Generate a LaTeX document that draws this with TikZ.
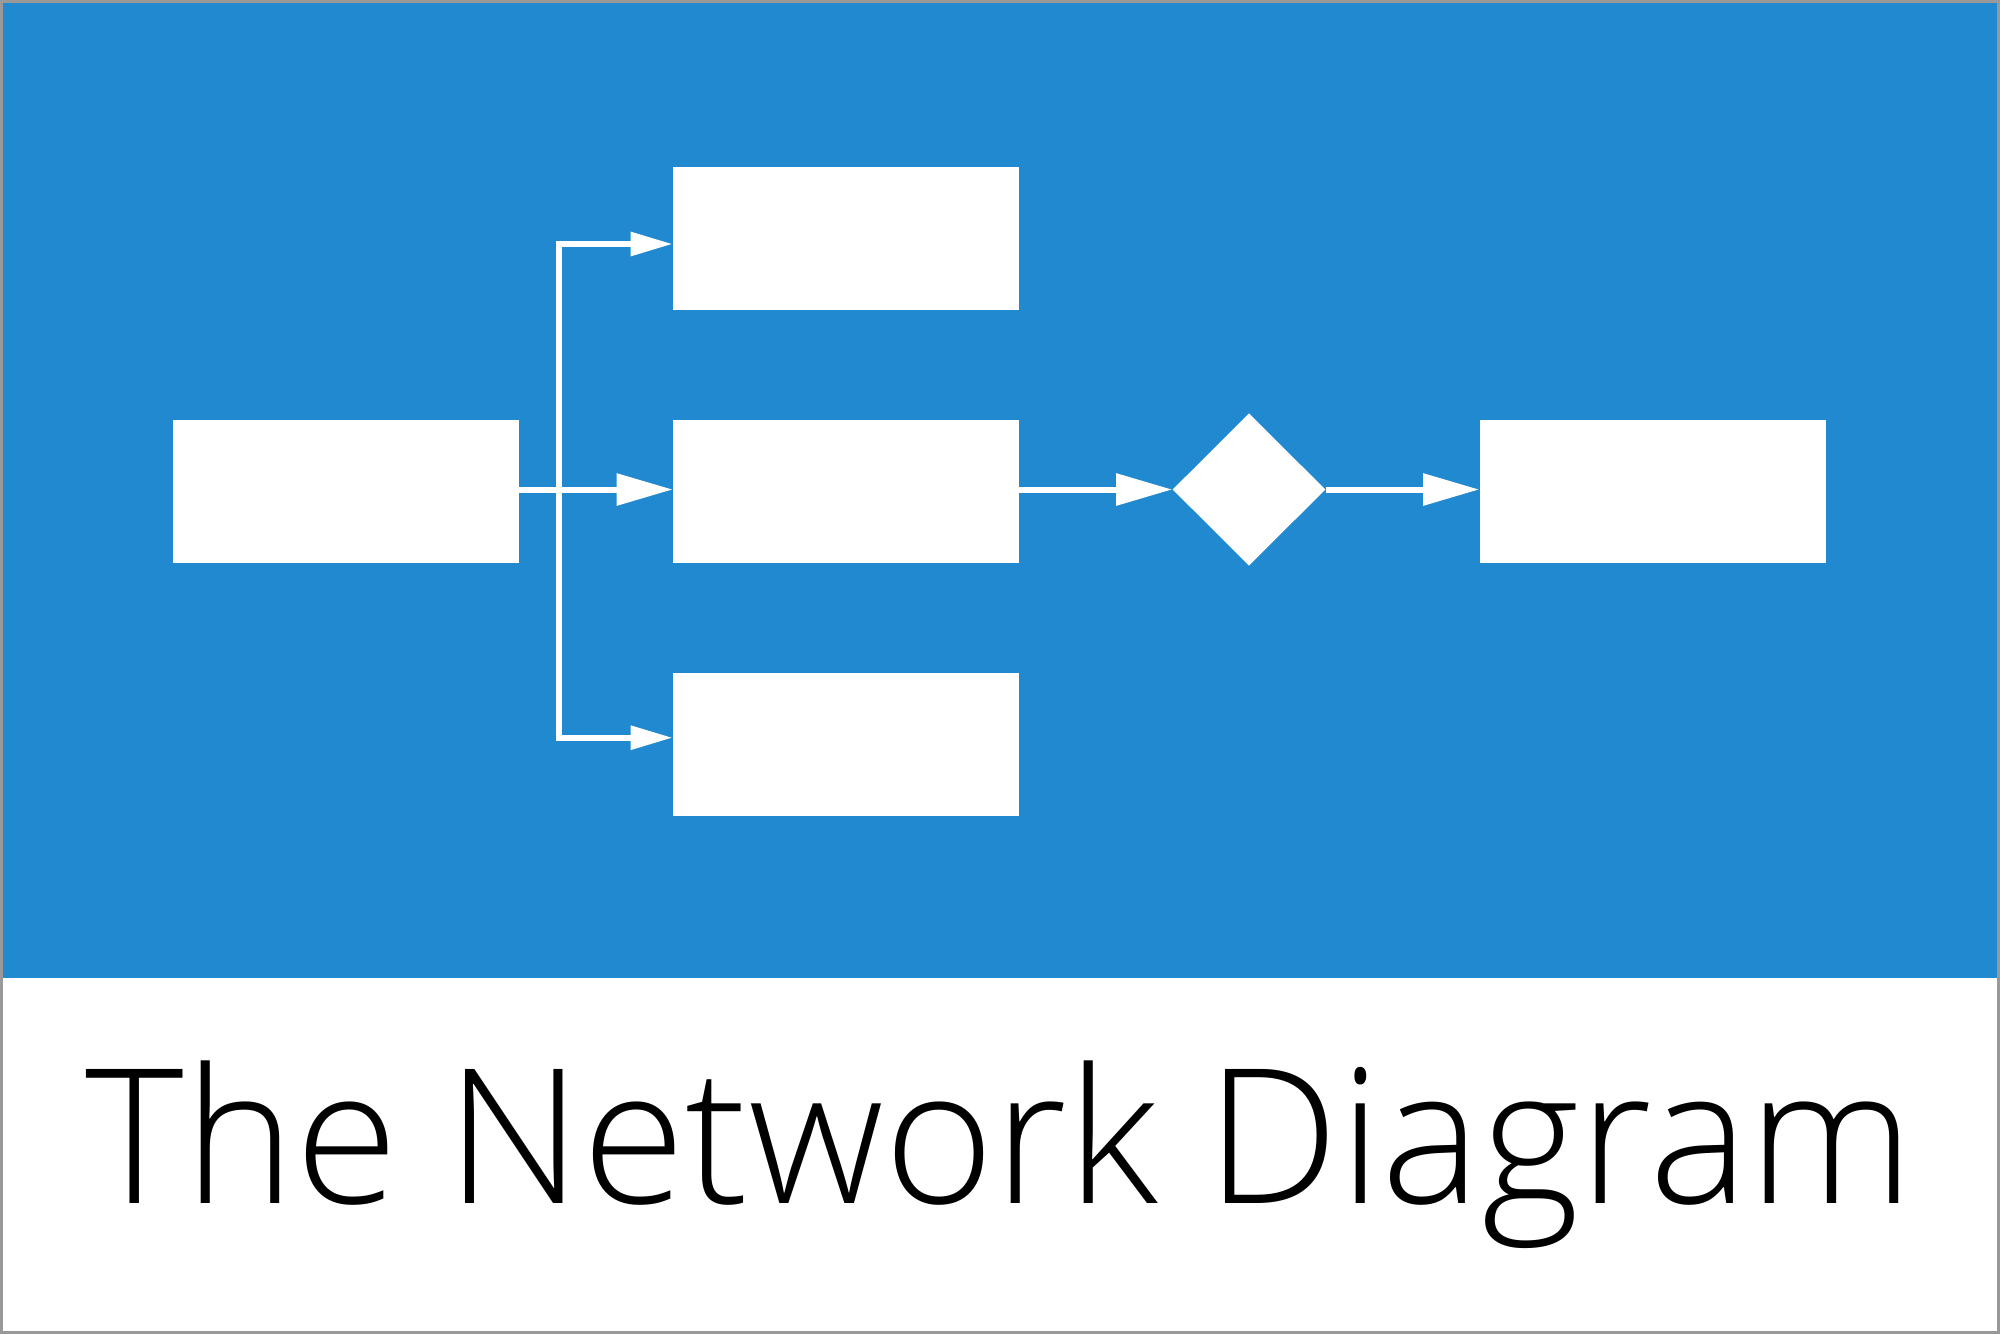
\documentclass[tikz,border=0pt]{standalone}
\usepackage{fontspec}
\setmainfont{Open Sans}[UprightFont={* Light}]
\usetikzlibrary{arrows.meta,shapes.geometric,calc}
\definecolor{bgblue}{RGB}{32,137,207}
\definecolor{framegray}{RGB}{153,153,153}
\tikzset{
  whitebox/.style={rectangle,fill=white,inner sep=0pt,minimum width=173pt,minimum height=71.5pt},
  decision/.style={diamond,fill=white,inner sep=0pt,minimum width=76.5pt,minimum height=76.2pt},
  bigconn/.style={draw=white,line width=3pt,-{Triangle[length=28pt,width=15.5pt]}},
  smallconn/.style={draw=white,line width=3pt,-{Triangle[length=21pt,width=11.5pt]}},
}
\begin{document}
\begin{tikzpicture}[x=0.5pt,y=-0.5pt]
\useasboundingbox (0,0) rectangle (2000,1334);
\fill[white] (0,0) rectangle (2000,1334);
\fill[bgblue] (0,0) rectangle (2000,978);
\draw[framegray,line width=1.5pt] (1.5,1.5) rectangle (1998.5,1332.5);
\node[whitebox] (src) at (346,491.5) {};
\node[whitebox] (top) at (846,238.5) {};
\node[whitebox] (mid) at (846,491.5) {};
\node[whitebox] (bot) at (846,744.5) {};
\node[decision] (dec) at (1249,489.5) {};
\node[whitebox] (dst) at (1652.5,491.5) {};
\coordinate (br) at (559,489.5);
\draw[bigconn] ($(src.east)+(0,-2)$) -- ($(mid.west)+(0,-2)$);
\draw[smallconn] (br) |- ($(top.west)+(0,5.5)$);
\draw[smallconn] (br) |- ($(bot.west)+(0,-6.8)$);
\draw[bigconn] ($(mid.east)+(0,-2)$) -- (dec.west);
\draw[bigconn] (dec.east) -- ($(dst.west)+(0,-2)$);
\node[anchor=base west,inner sep=0pt,font=\fontsize{93.9pt}{100pt}\selectfont] (title) at (85.5,1203) {The Network Diagram};
\end{tikzpicture}
\end{document}
